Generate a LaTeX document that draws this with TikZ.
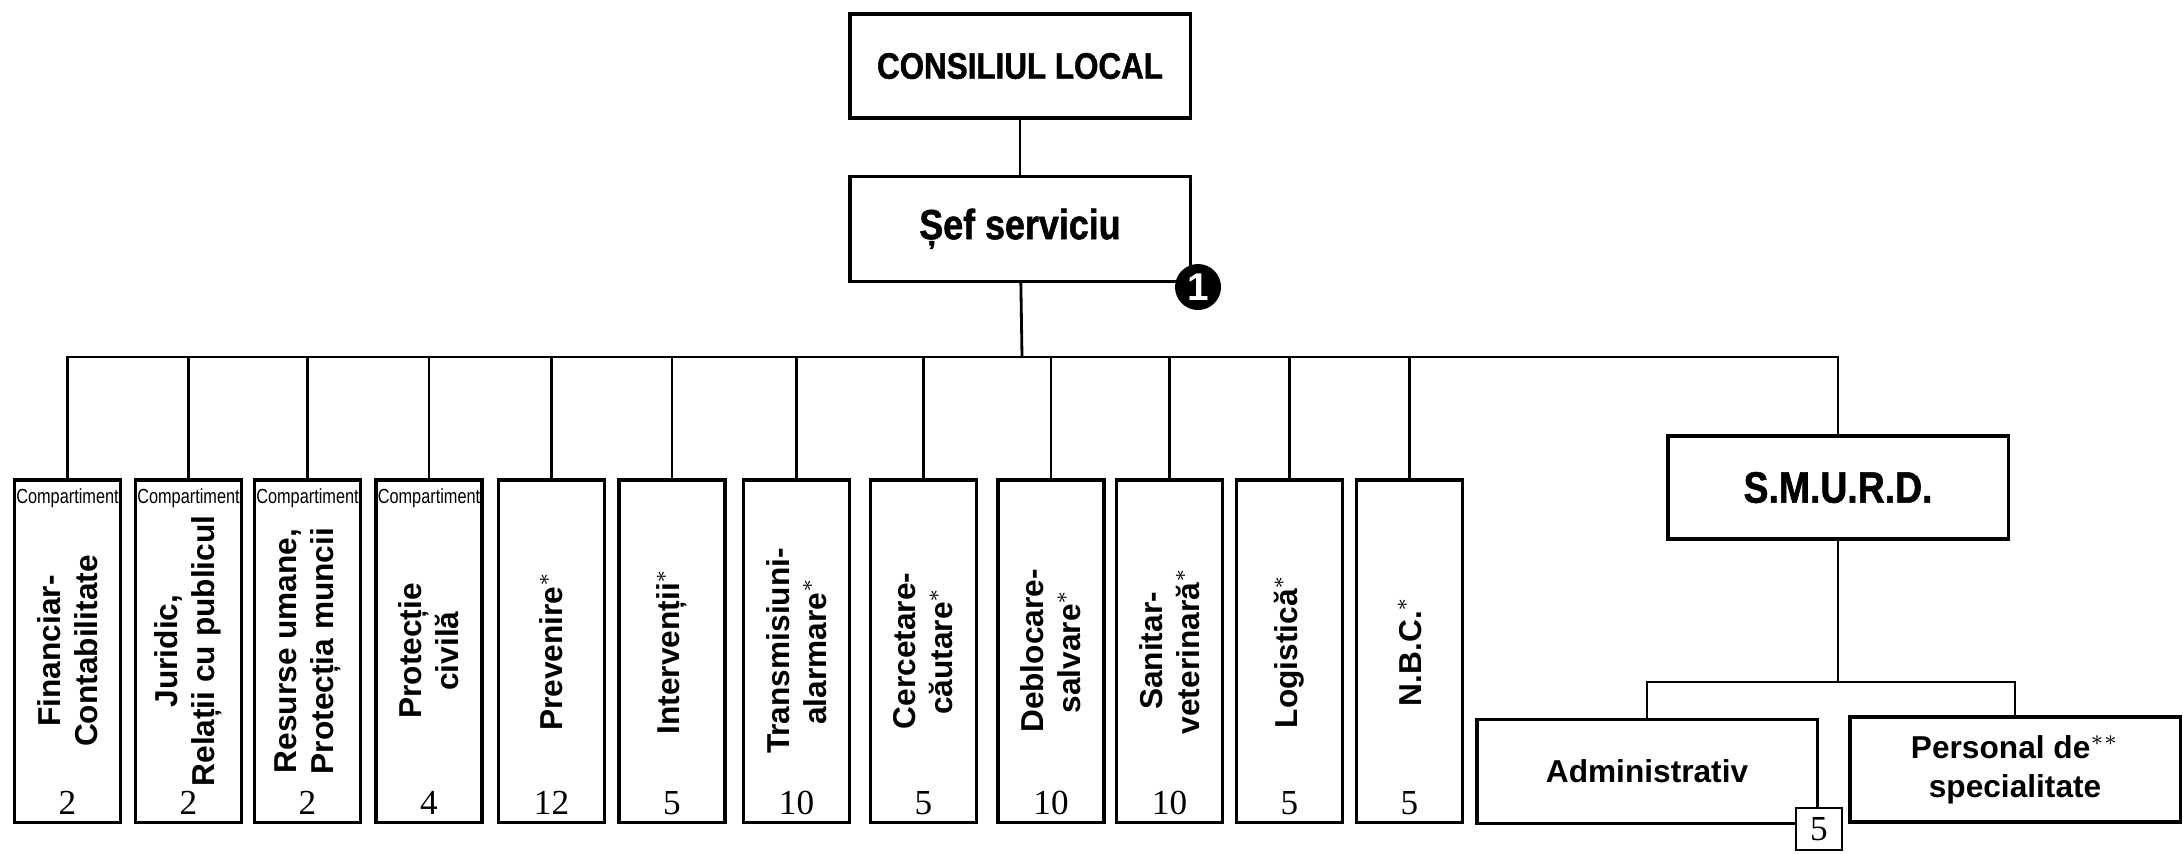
\documentclass[tikz,border=0pt]{standalone}
\usepackage{fontspec}
\setmainfont{Liberation Serif}
\newfontfamily\headfont[FakeStretch=0.85, BoldFeatures={FakeBold=1.2}]{Liberation Sans}
\newfontfamily\labelfont{Liberation Sans}
\newfontfamily\tagfont[FakeStretch=0.8]{Liberation Sans}
\usetikzlibrary{positioning}
\tikzstyle{wire} = [line width=0.8pt]
\tikzstyle{unit} = [rectangle, draw, line width=0.9pt, minimum width=3.4cm, minimum height=1.04cm, inner sep=0pt, font=\headfont\bfseries\fontsize{12}{14}\selectfont]
\tikzstyle{dept} = [rectangle, draw, line width=0.9pt, minimum width=1.06cm, minimum height=3.42cm]
\tikzstyle{deptlabel} = [rotate=90, align=center, inner sep=0pt, font=\labelfont\bfseries\fontsize{9}{10.5}\selectfont]
\tikzstyle{staff} = [inner sep=0pt, font=\fontsize{10}{12}\selectfont]
\tikzstyle{comptag} = [inner sep=0pt, font=\tagfont\fontsize{5.8}{6}\selectfont]
\tikzstyle{subunit} = [rectangle, draw, line width=0.9pt, minimum height=1.04cm, align=center, font=\labelfont\bfseries\fontsize{9}{11}\selectfont]
\tikzstyle{badge} = [circle, fill=black, text=white, minimum size=0.46cm, inner sep=0pt, font=\labelfont\bfseries\fontsize{11}{11}\selectfont]

\begin{document}
\begin{tikzpicture}[x=0.01cm, y=-0.01cm]
\useasboundingbox (0,0) rectangle (2183,853);

% council and head of service
\node (council) [unit, font=\headfont\bfseries\fontsize{10.5}{12}\selectfont] at (1020,66) {CONSILIUL LOCAL};
\node (chief) [unit, below=0.55cm of council, minimum height=1.05cm] {Șef serviciu};
\node (one) [badge] at (1198,287) {1};
\draw[wire] (council) -- (chief);
\coordinate (bus) at (1022,357);
\draw[wire] (chief) -- (bus);

% departments
\foreach \name/\x/\txt/\num in {fin/67.5/{Financiar-\\Contabilitate}/2,
    jur/188.5/{Juridic,\\Relații cu publicul}/2,
    res/307.5/{Resurse umane,\\Protecția muncii}/2,
    prot/429/{Protecție\\civilă}/4,
    prev/551.5/{Prevenire$^{*}$}/12,
    interv/672/{Intervenții$^{*}$}/5,
    trans/796.5/{Transmisiuni-\\alarmare$^{*}$}/10,
    cerc/923.5/{Cercetare-\\căutare$^{*}$}/5,
    debl/1051/{Deblocare-\\salvare$^{*}$}/10,
    san/1169.5/{Sanitar-\\veterinară$^{*}$}/10,
    logi/1289.5/{Logistică$^{*}$}/5,
    nbc/1409.5/{N.B.C.$^{*}$}/5}
{
  \node (\name) [dept] at (\x,651) {};
  \node (\name-t) [deptlabel] at (\name) {\txt};
  \node (\name-n) [staff] at (\x,803) {\num};
  \draw[wire] (bus) -| (\name.north);
}

% compartments
\foreach \name in {fin,jur,res,prot}
  \node (\name-c) [comptag, below=0.1cm of \name.north] {Compartiment};

% S.M.U.R.D.
\node (smurd) [unit, minimum height=1.03cm, font=\headfont\bfseries\fontsize{12.5}{14}\selectfont] at (1838,487.5) {S.M.U.R.D.};
\draw[wire] (bus) -| (smurd.north);
\node (adm) [subunit, minimum width=3.4cm] at (1647,771.5) {Administrativ};
\node (pers) [subunit, minimum width=3.3cm, minimum height=1.05cm] at (2015,769.5) {Personal de$^{**}$\\specialitate};
\node (adm-n) [staff, draw, line width=0.8pt, fill=white, minimum width=0.46cm, minimum height=0.42cm] at (1819,829) {5};
\coordinate (subbus) at (1838,682);
\draw[wire] (smurd) -- (subbus);
\draw[wire] (subbus) -| (adm.north);
\draw[wire] (subbus) -| (pers.north);
\end{tikzpicture}
\end{document}
